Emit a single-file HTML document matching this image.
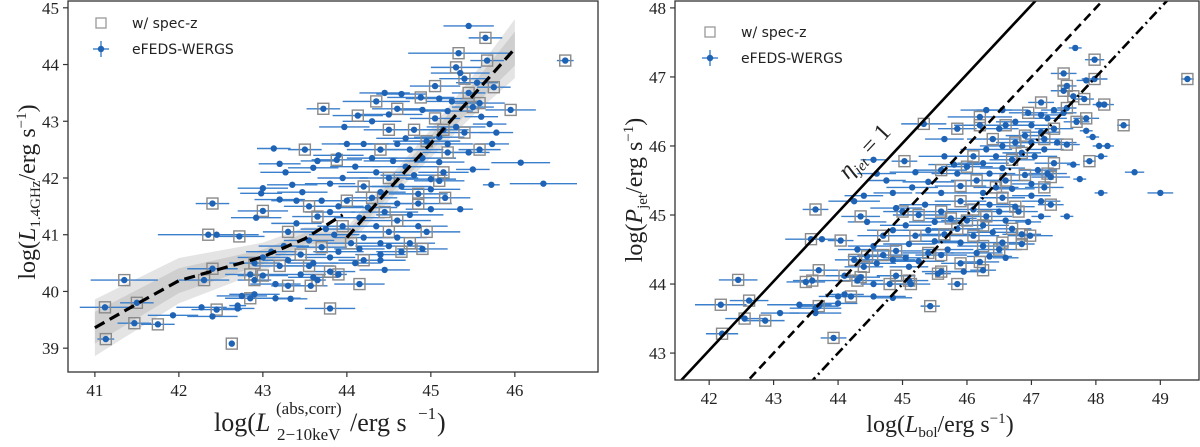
<!DOCTYPE html>
<html><head><meta charset="utf-8"><style>
html,body{margin:0;padding:0;background:#fff;width:1200px;height:447px;overflow:hidden}
svg{display:block}
.tk{font-family:"Liberation Serif",serif;font-size:17px;fill:#222}
.lab{font-family:"Liberation Serif",serif;font-size:24px;fill:#222}
.lab2{font-family:"Liberation Serif",serif;font-size:26px;fill:#222}
.sm{font-family:"Liberation Serif",serif;font-size:17px;fill:#222}
.leg{font-family:"DejaVu Sans","Liberation Sans",sans-serif;font-size:14px;fill:#222}
</style></head><body>
<svg id="fig" width="1200" height="447" viewBox="0 0 1200 447" xmlns="http://www.w3.org/2000/svg">
<defs>
<clipPath id="clipL"><rect x="68" y="1" width="530" height="371"/></clipPath>
<clipPath id="clipR"><rect x="675" y="1" width="524" height="379"/></clipPath>
</defs>
<g id="panelL"></g>
<g id="panelR"></g>
<text class="lab" transform="translate(35,192) rotate(-90)" text-anchor="middle">log(<tspan font-style="italic">L</tspan><tspan font-size="15" dy="5">1.4GHz</tspan><tspan dy="-5">/erg s</tspan><tspan font-size="15" dy="-9">−1</tspan><tspan dy="9">)</tspan></text>
<g>
<text class="lab2" x="214" y="431">log(<tspan font-style="italic">L</tspan></text>
<text class="sm" x="276" y="414">(abs,corr)</text>
<text class="sm" x="277" y="440">2−10keV</text>
<text class="lab2" x="350" y="431">/erg s</text>
<text class="sm" x="418" y="419">−1</text>
<text class="lab2" x="437" y="431">)</text>
</g>
<text class="lab" transform="translate(642,190) rotate(-90)" text-anchor="middle">log(<tspan font-style="italic">P</tspan><tspan font-size="15" dy="5">jet</tspan><tspan dy="-5">/erg s</tspan><tspan font-size="15" dy="-9">−1</tspan><tspan dy="9">)</tspan></text>
<text class="lab" x="940" y="432" text-anchor="middle">log(<tspan font-style="italic">L</tspan><tspan font-size="15" dy="5">bol</tspan><tspan dy="-5">/erg s</tspan><tspan font-size="15" dy="-9">−1</tspan><tspan dy="9">)</tspan></text>
</svg>
<script>
// ---------- LEFT PANEL DATA ----------
const leftX = [45.45,45.65,45.33,46.6,45.67,45.3,45.35,45.4,45.55,45.75,45.05,45.45,44.45,44.65,44.88,45.1,45.25,44.35,45.58,45.5,43.72,44.9,44.6,45.95,45.2,44.13,44.5,45.05,45.6,44.3,43.97,45.3,45.7,44.8,45.15,44.5,45.4,45.78,45.1,44.7,44.95,44.6,44.2,45.2,45.73,44.0,43.13,43.5,44.4,44.75,45.58,45.2,45.45,43.9,44.3,44.9,43.88,44.55,43.65,45.1,46.07,43.2,44.1,44.7,45.5,43.6,45.15,44.35,43.27,44.8,43.95,44.5,45.0,45.1,43.8,46.34,45.72,44.2,44.65,43.35,43.0,45.0,44.4,43.47,42.98,44.85,44.3,45.17,43.7,42.4,43.2,43.4,44.0,44.6,44.85,43.55,43.9,44.25,45.0,45.35,43.0,43.8,44.45,44.75,42.92,43.65,44.15,44.6,43.4,43.95,44.35,44.85,43.75,43.3,44.5,44.95,42.35,42.45,42.72,43.85,44.2,44.6,43.55,44.05,44.4,44.75,44.5,43.25,43.7,44.9,44.15,44.65,43.9,43.1,43.45,44.4,43.8,43.0,43.3,44.2,44.4,42.9,43.6,43.2,43.55,44.1,42.4,43.8,43.9,44.45,42.85,43.0,43.45,43.6,41.35,42.3,42.9,43.65,44.15,43.15,43.3,43.57,42.9,42.75,42.85,43.15,43.33,41.5,41.12,42.27,42.7,43.8,42.45,42.7,41.93,42.4,41.47,41.75,41.13,42.63];
const leftY = [44.68,44.47,44.2,44.07,44.07,43.95,43.85,43.75,43.68,43.6,43.62,43.5,43.5,43.48,43.42,43.4,43.35,43.35,43.32,43.25,43.22,43.2,43.22,43.2,43.18,43.1,43.12,43.05,43.08,43.0,42.9,42.9,42.95,42.85,42.85,42.85,42.8,42.8,42.72,42.7,42.65,42.6,42.6,42.6,42.6,42.6,42.52,42.5,42.5,42.5,42.5,42.45,42.45,42.4,42.35,42.35,42.32,42.3,42.3,42.28,42.27,42.25,42.2,42.2,42.15,42.18,42.1,42.1,42.1,42.05,42.0,42.0,41.98,41.95,41.9,41.9,41.88,41.85,41.85,41.88,41.82,41.8,41.75,41.75,41.73,41.72,41.65,41.65,41.6,41.55,41.62,41.6,41.6,41.55,41.55,41.5,41.5,41.48,41.45,41.45,41.42,41.4,41.4,41.35,41.3,41.32,41.3,41.25,41.2,41.15,41.15,41.15,41.1,41.05,41.05,41.05,41.0,41.0,40.97,41.0,40.95,40.95,40.9,40.85,40.85,40.85,40.8,40.8,40.78,40.75,40.75,40.7,40.7,40.7,40.65,40.65,40.6,40.6,40.55,40.55,40.55,40.5,40.5,40.45,40.45,40.5,40.4,40.35,40.3,40.38,40.3,40.28,40.3,40.25,40.2,40.2,40.2,40.2,40.13,40.13,40.1,40.1,39.95,39.92,39.88,39.88,39.87,39.8,39.72,39.72,39.75,39.7,39.68,39.7,39.58,39.56,39.44,39.42,39.16,39.08];
const leftErr = [0.3,0.2,0.6,0.1,0.2,0.3,0.35,0.3,0.25,0.2,0.3,0.2,0.3,0.3,0.4,0.4,0.3,0.4,0.3,0.25,0.2,0.3,0.3,0.3,0.3,0.3,0.4,0.3,0.2,0.35,0.3,0.35,0.2,0.35,0.3,0.3,0.3,0.2,0.3,0.35,0.4,0.35,0.3,0.3,0.2,0.3,0.2,0.2,0.4,0.4,0.25,0.3,0.25,0.3,0.3,0.4,0.3,0.35,0.2,0.3,0.35,0.25,0.3,0.4,0.2,0.3,0.3,0.35,0.3,0.4,0.3,0.35,0.3,0.3,0.3,0.4,0.1,0.3,0.35,0.3,0.3,0.35,0.3,0.3,0.25,0.35,0.3,0.3,0.3,0.2,0.3,0.3,0.3,0.35,0.4,0.3,0.3,0.35,0.3,0.15,0.3,0.3,0.4,0.4,0.3,0.3,0.3,0.4,0.3,0.3,0.35,0.35,0.3,0.3,0.45,0.4,0.6,0.2,0.3,0.3,0.35,0.35,0.3,0.3,0.35,0.3,0.4,0.3,0.3,0.3,0.3,0.3,0.3,0.3,0.3,0.3,0.3,0.3,0.3,0.3,0.3,0.3,0.3,0.3,0.3,0.3,0.3,0.3,0.1,0.3,0.3,0.3,0.3,0.3,0.4,0.3,0.2,0.1,0.3,0.3,0.2,0.2,0.3,0.3,0.3,0.3,0.2,0.2,0.3,0.3,0.1,0.3,0.3,0.2,0.3,0.3,0.2,0.2,0.1];
const leftSpec = [0,1,1,1,1,1,0,1,0,1,1,1,0,0,1,0,0,1,1,1,1,0,1,1,0,1,0,1,0,0,0,0,0,1,1,1,1,0,0,0,1,0,0,0,0,0,0,1,1,0,1,1,0,0,0,0,1,0,0,0,0,0,0,0,0,0,1,0,0,0,0,1,0,1,0,0,0,1,0,0,0,0,0,0,0,1,1,1,0,1,0,0,1,0,1,1,0,0,0,0,1,0,1,0,0,1,0,1,0,1,0,0,0,1,1,1,1,0,1,0,0,0,0,1,0,1,0,0,1,1,0,1,0,0,1,0,0,0,0,1,0,1,0,1,1,0,1,1,1,0,1,1,0,0,1,1,1,1,1,0,1,1,0,0,1,0,0,1,1,0,0,1,1,0,0,0,1,1,1,1];
const leftTicksX = [41,42,43,44,45,46];
const leftTicksY = [39,40,41,42,43,44,45];
const fitLowX = [41,41.5,42,42.5,43,43.5,43.95];
const fitLowY = [39.36,39.78,40.19,40.4,40.61,40.93,41.35];
const fitHighX = [44,44.5,45,45.5,46];
const fitHighY = [40.95,41.8,42.61,43.45,44.28];
const bandX = [41,42,43,43.5,44,44.5,45,45.5,46];
const bandOuter = [0.5,0.4,0.25,0.2,0.18,0.2,0.25,0.35,0.52];
const bandInner = [0.28,0.22,0.13,0.1,0.1,0.11,0.14,0.2,0.3];

// ---------- RIGHT PANEL DATA ----------
const rightX = [47.68,47.98,47.5,49.42,47.98,47.85,47.55,47.5,47.65,47.82,47.15,48.05,48.13,47.55,46.3,46.55,47.35,46.95,47.5,47.15,46.2,47.25,47.7,47.85,46.75,45.33,48.43,46.6,46.2,47.0,46.5,47.35,45.85,47.85,47.15,46.9,47.95,45.65,46.4,47.2,46.75,47.4,47.0,46.55,48.05,48.18,47.55,46.3,47.2,46.85,45.65,46.1,46.45,47.05,48.08,44.55,45.03,46.7,47.9,47.35,46.25,45.8,47.65,46.0,46.55,47.1,45.6,45.2,48.6,47.25,46.35,44.6,45.85,46.9,47.3,44.75,47.75,46.15,46.6,45.4,47.0,45.9,46.45,47.2,45.15,46.7,44.85,49.0,48.08,45.6,46.25,47.0,44.4,46.55,45.9,47.15,44.25,45.35,46.35,47.3,46.75,44.9,46.1,43.65,45.6,45.0,46.5,46.8,45.25,46.3,47.15,44.35,45.75,47.55,46.0,46.6,45.5,44.45,46.95,45.05,46.25,45.85,46.7,44.85,45.4,46.4,45.65,46.85,45.2,44.7,46.1,46.98,43.58,43.75,44.04,45.5,45.9,46.55,46.85,45.1,44.55,46.25,45.7,46.5,44.3,44.9,45.4,46.15,44.7,45.6,46.35,44.45,45.05,44.85,46.6,44.25,45.25,46.2,44.6,45.9,44.4,45.1,46.25,43.7,45.6,45.95,44.1,44.9,44.35,45.55,42.45,43.6,45.1,44.3,43.5,44.55,44.8,45.85,45.13,44.0,44.1,44.2,44.55,44.85,42.62,42.18,43.4,44.0,43.7,45.43,43.65,43.1,43.65,42.55,42.87,42.2,43.93];
const rightY = [47.42,47.25,47.05,46.97,46.97,46.95,46.87,46.8,46.72,46.68,46.63,46.6,46.6,46.55,46.52,46.52,46.52,46.48,46.48,46.45,46.42,46.4,46.35,46.4,46.35,46.32,46.3,46.3,46.3,46.3,46.25,46.25,46.25,46.22,46.2,46.15,46.13,46.1,46.1,46.1,46.05,46.05,46.05,46.0,46.0,46.0,46.02,45.95,45.95,45.9,45.85,45.85,45.85,45.85,45.85,45.8,45.78,45.8,45.78,45.75,45.75,45.73,45.73,45.7,45.68,45.65,45.65,45.62,45.62,45.6,45.6,45.6,45.6,45.58,45.55,45.5,45.52,45.5,45.5,45.48,45.45,45.42,45.4,45.4,45.4,45.38,45.32,45.32,45.32,45.32,45.32,45.28,45.28,45.25,45.2,45.2,45.2,45.15,45.15,45.15,45.12,45.1,45.08,45.08,45.05,45.05,45.05,45.05,45.0,44.98,44.98,44.98,44.95,44.98,44.92,44.92,44.9,44.9,44.9,44.85,44.85,44.8,44.8,44.78,44.78,44.75,44.72,44.72,44.7,44.7,44.7,44.7,44.65,44.65,44.63,44.62,44.6,44.6,44.58,44.58,44.55,44.55,44.5,44.5,44.5,44.48,44.45,44.45,44.42,44.42,44.4,44.4,44.38,44.35,44.38,44.35,44.33,44.32,44.3,44.3,44.25,44.25,44.2,44.2,44.18,44.18,44.12,44.12,44.1,44.15,44.06,44.05,44.05,44.05,44.03,44.0,44.0,44.0,44.0,43.82,43.85,43.82,43.82,43.8,43.76,43.7,43.7,43.72,43.68,43.68,43.65,43.58,43.58,43.5,43.47,43.28,43.22];
const rightErr = [0.1,0.15,0.2,0.1,0.2,0.15,0.15,0.2,0.15,0.15,0.2,0.1,0.15,0.15,0.4,0.4,0.2,0.3,0.2,0.3,0.5,0.3,0.2,0.2,0.3,0.35,0.1,0.3,0.4,0.3,0.3,0.3,0.3,0.1,0.3,0.3,0.1,0.3,0.4,0.3,0.3,0.3,0.3,0.35,0.1,0.1,0.2,0.4,0.3,0.3,0.4,0.4,0.35,0.35,0.1,0.2,0.2,0.35,0.1,0.3,0.4,0.4,0.1,0.4,0.35,0.3,0.4,0.4,0.15,0.3,0.4,0.3,0.4,0.3,0.3,0.3,0.1,0.4,0.35,0.4,0.3,0.4,0.35,0.3,0.4,0.35,0.3,0.2,0.1,0.4,0.4,0.3,0.3,0.35,0.4,0.3,0.4,0.4,0.4,0.2,0.3,0.4,0.4,0.2,0.4,0.3,0.35,0.3,0.4,0.4,0.15,0.3,0.4,0.1,0.4,0.35,0.4,0.3,0.2,0.4,0.4,0.4,0.3,0.4,0.4,0.4,0.4,0.3,0.4,0.4,0.4,0.35,0.4,0.2,0.2,0.4,0.4,0.35,0.2,0.4,0.4,0.4,0.4,0.35,0.3,0.4,0.4,0.4,0.4,0.4,0.35,0.3,0.35,0.35,0.2,0.3,0.4,0.3,0.3,0.3,0.3,0.3,0.2,0.3,0.3,0.3,0.3,0.3,0.3,0.2,0.3,0.3,0.3,0.4,0.3,0.2,0.3,0.15,0.3,0.3,0.3,0.3,0.5,0.3,0.3,0.4,0.5,0.3,0.3,0.15,0.4,0.3,0.4,0.3,0.3,0.25,0.2];
const rightSpec = [0,1,1,1,1,0,1,1,1,1,1,0,1,1,0,0,0,1,0,0,1,0,1,1,0,1,1,1,1,0,0,1,1,0,0,1,0,0,1,1,1,0,0,0,0,0,1,0,0,1,0,1,0,0,0,0,1,1,1,1,0,0,0,1,0,0,1,0,0,1,0,0,0,1,1,0,0,1,1,0,0,1,1,1,0,0,0,0,0,0,0,0,0,1,1,0,0,0,0,1,1,0,1,1,1,1,0,1,1,1,0,1,1,0,1,0,0,0,0,0,1,1,1,0,0,0,1,1,1,1,1,1,1,0,1,0,0,1,1,0,0,1,0,1,0,1,1,0,1,1,0,1,0,0,0,1,0,1,0,1,1,0,1,1,1,0,1,1,1,1,1,1,1,1,1,0,1,1,1,0,0,1,0,0,1,1,0,0,1,1,0,0,0,1,1,1,1,1];
const rightTicksX = [42,43,44,45,46,47,48,49];
const rightTicksY = [43,44,45,46,47,48];
const jetOffsets = [1.04, 0.0, -1.0];
const jetDash = ["", "9,5", "10,4,2,4"];

const NS = "http://www.w3.org/2000/svg";
function mk(parent, tag, attrs){const e=document.createElementNS(NS,tag);for(const k in attrs)e.setAttribute(k,attrs[k]);parent.appendChild(e);return e;}
function lineVal(xs,ys,x){for(let i=0;i<xs.length-1;i++){if(x<=xs[i+1]){const t=(x-xs[i])/(xs[i+1]-xs[i]);return ys[i]+t*(ys[i+1]-ys[i]);}}return ys[ys.length-1];}

function drawPanel(g, cfg){
  const sx = v => cfg.x0 + (v - cfg.xmin) / (cfg.xmax - cfg.xmin) * cfg.w;
  const sy = v => cfg.y0 + cfg.h - (v - cfg.ymin) / (cfg.ymax - cfg.ymin) * cfg.h;
  const plot = mk(g,"g",{"clip-path":"url(#"+cfg.clip+")"});
  
  
  if(cfg.extra) cfg.extra(plot, sx, sy);
  const eb = mk(plot,"g",{stroke:"#3a7fcc","stroke-width":1.4});
  
  
  for(let i=0;i<cfg.X.length;i++){
    const x=cfg.X[i],y=cfg.Y[i],e=cfg.E[i];
    mk(eb,"line",{x1:sx(x-e),x2:sx(x+e),y1:sy(y),y2:sy(y)});
    mk(eb,"line",{x1:sx(x),x2:sx(x),y1:sy(y)-2,y2:sy(y)+2});
  }
  const sq = mk(plot,"g",{fill:"none",stroke:"#8a8a8a","stroke-width":1.4});
  
  
  for(let i=0;i<cfg.X.length;i++){ if(!cfg.S[i]) continue;
    mk(sq,"rect",{x:sx(cfg.X[i])-5.5,y:sy(cfg.Y[i])-5.5,width:11,height:11});
  }
  const pts = mk(plot,"g",{fill:"#1f63b5"});
  
  
  for(let i=0;i<cfg.X.length;i++){
    const c = mk(pts,"circle",{cx:sx(cfg.X[i]),cy:sy(cfg.Y[i]),r:3.2});
    
    
  }
  if(cfg.after) cfg.after(plot, sx, sy);
  const fr = mk(g,"rect",{x:cfg.x0,y:cfg.y0,width:cfg.w,height:cfg.h,fill:"none",stroke:"#333","stroke-width":1.3});
  
  
  const xt = mk(g,"g",{});
  
  
  cfg.tx.forEach(t=>{const x=sx(t);
    mk(xt,"line",{x1:x,x2:x,y1:cfg.y0+cfg.h,y2:cfg.y0+cfg.h+5,stroke:"#333","stroke-width":1.2});
    const tt=mk(xt,"text",{x:x,y:cfg.y0+cfg.h+24,"text-anchor":"middle",class:"tk"});tt.textContent=t;});
  const yt = mk(g,"g",{});
  
  
  cfg.ty.forEach(t=>{const y=sy(t);
    mk(yt,"line",{x1:cfg.x0-5,x2:cfg.x0,y1:y,y2:y,stroke:"#333","stroke-width":1.2});
    const tt=mk(yt,"text",{x:cfg.x0-9,y:y+6,"text-anchor":"end",class:"tk"});tt.textContent=t;});
  const lg = mk(g,"g",{});
  
  
  const lx=cfg.legX, ly=cfg.legY;
  mk(lg,"rect",{x:lx-5,y:ly-5,width:10,height:10,fill:"none",stroke:"#999","stroke-width":1.3});
  let t1=mk(lg,"text",{x:lx+31,y:ly+5,class:"leg"});t1.textContent="w/ spec-z";
  mk(lg,"line",{x1:lx-8,x2:lx+8,y1:ly+26,y2:ly+26,stroke:"#3a7fcc","stroke-width":1.4});
  mk(lg,"line",{x1:lx,x2:lx,y1:ly+18,y2:ly+34,stroke:"#3a7fcc","stroke-width":1.4});
  mk(lg,"circle",{cx:lx,cy:ly+26,r:3.2,fill:"#1f63b5"});
  let t2=mk(lg,"text",{x:lx+31,y:ly+31,class:"leg"});t2.textContent="eFEDS-WERGS";
}

const gL=document.getElementById('panelL');
drawPanel(gL,{name:"left",x0:68,y0:1,w:530,h:371,xmin:40.68,xmax:46.99,ymin:38.58,ymax:45.12,clip:"clipL",
  X:leftX,Y:leftY,E:leftErr,S:leftSpec,tx:leftTicksX,ty:leftTicksY,legX:101,legY:23,
  extra:(p,sx,sy)=>{
    const band=(arr,fill,nm)=>{let up=[],lo=[];
      bandX.forEach((x,i)=>{const yc=x<44?lineVal(fitLowX,fitLowY,Math.min(x,43.95)):lineVal(fitHighX,fitHighY,x);
        up.push(sx(x)+","+sy(yc+arr[i]));lo.unshift(sx(x)+","+sy(yc-arr[i]));});
      const pg=mk(p,"polygon",{points:up.concat(lo).join(" "),fill:fill});
      
      };
    band(bandOuter,"#e4e4e4","fit-outer-band");
    band(bandInner,"#cfcfcf","fit-inner-band");
  },
  after:(p,sx,sy)=>{
    const l1=mk(p,"polyline",{points:fitLowX.map((x,i)=>sx(x)+","+sy(fitLowY[i])).join(" "),fill:"none",stroke:"#000","stroke-width":3.2,"stroke-dasharray":"11,6"});
    
    
    const l2=mk(p,"polyline",{points:fitHighX.map((x,i)=>sx(x)+","+sy(fitHighY[i])).join(" "),fill:"none",stroke:"#000","stroke-width":3.2,"stroke-dasharray":"11,6"});
    
    
  }});

const gR=document.getElementById('panelR');
drawPanel(gR,{name:"right",x0:675,y0:1,w:524,h:379,xmin:41.47,xmax:49.6,ymin:42.61,ymax:48.1,clip:"clipR",
  X:rightX,Y:rightY,E:rightErr,S:rightSpec,tx:rightTicksX,ty:rightTicksY,legX:710,legY:32,
  after:(p,sx,sy)=>{
    jetOffsets.forEach((o,i)=>{
      const a=41.0,b=50;
      const ln=mk(p,"line",{x1:sx(a),y1:sy(a+o),x2:sx(b),y2:sy(b+o),stroke:"#000","stroke-width":2.6});
      if(jetDash[i]) ln.setAttribute("stroke-dasharray",jetDash[i]);
      
      
    });
    const tx=mk(p,"text",{x:0,y:0,transform:"translate(848,180) rotate(-47)","font-family":"Liberation Serif, serif","font-size":"24","font-style":"italic",fill:"#222"});
    tx.innerHTML='η<tspan font-size="15" dy="5">jet</tspan><tspan dy="-5" font-style="normal"> = 1</tspan>';
    
    
  }});
</script>
</body></html>
